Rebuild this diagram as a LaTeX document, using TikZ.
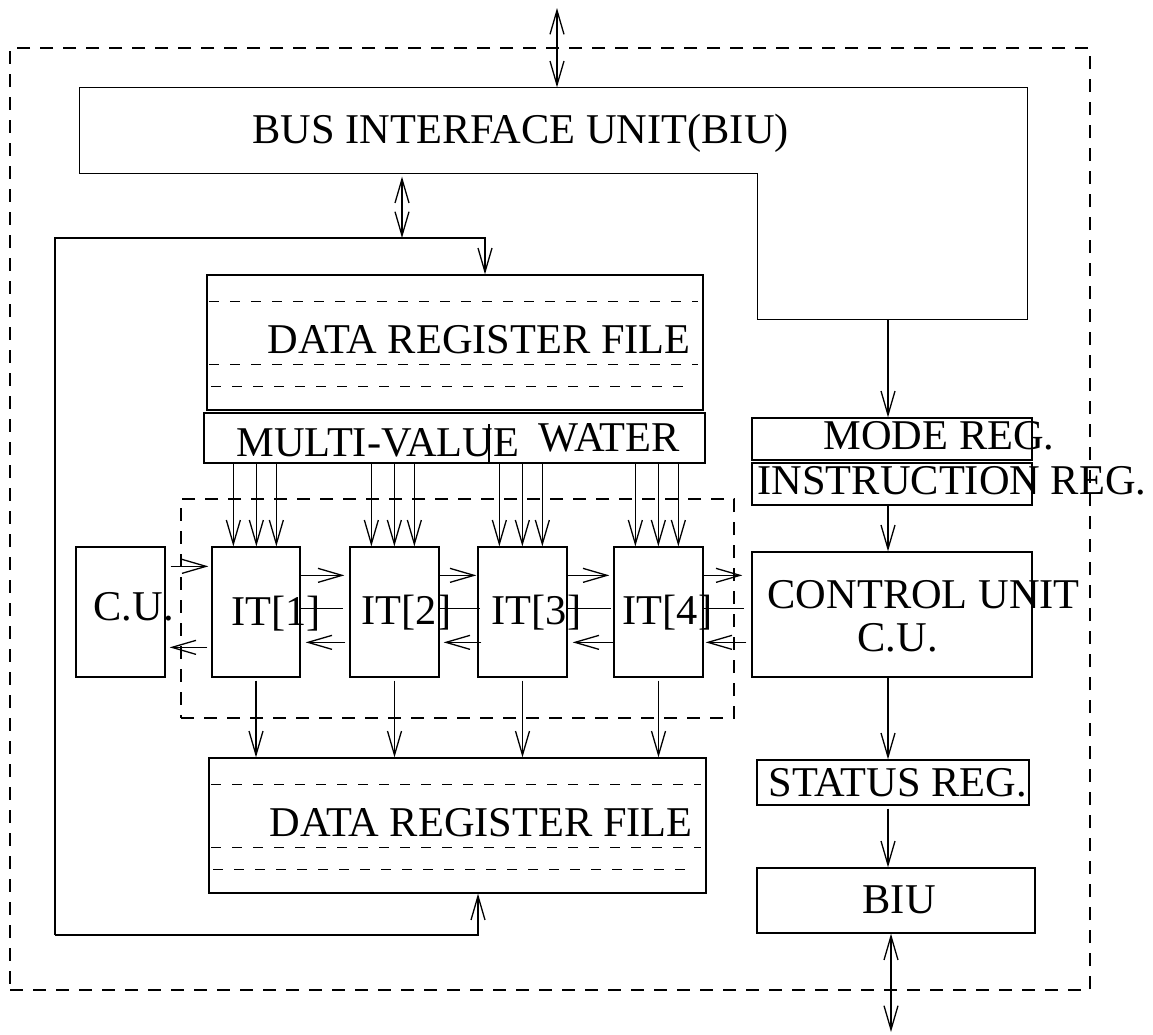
\documentclass[tikz,border=0pt]{standalone}
\usepackage{fontspec}
\setmainfont{Liberation Serif}
\usetikzlibrary{arrows.meta}
\begin{document}
\begin{tikzpicture}[x=1pt,y=-1pt, line width=1.3pt,
  every node/.style={font=\fontsize{42.4}{48}\selectfont},
  box/.style={draw, inner sep=0pt},
  lbl/.style={inner sep=0pt, anchor=base west},
  >={Straight Barb[length=24pt,width=14pt]},
  arr/.style={->},
  bi/.style={<->},
  odash/.style={dash pattern=on 13pt off 10pt},
  rdash/.style={dash pattern=on 10pt off 11pt}]
\useasboundingbox (0,0) rectangle (1153,1034);

% outer dashed frame
\node[box, odash, minimum width=1080pt, minimum height=942pt] (outer) at (550,519) {};

% bus interface unit (L-shaped)
\node[inner sep=0pt, minimum width=947pt, minimum height=85pt] (biu) at (553.5,130.5) {};
\node[inner sep=0pt, minimum width=269pt, minimum height=231pt] (biuR) at (892.5,203.5) {};
\draw (biu.north west) -- (biu.north east) -- (biuR.south east) -- (biuR.south west)
      -- (biuR.north west |- biu.south) -- (biu.south west) -- cycle;
\node[lbl] (tbiu) at (252,143) {BUS INTERFACE UNIT(BIU)};

% data register files
\node[box, minimum width=496pt, minimum height=135pt] (drf1) at (455,342.5) {};
\node[box, minimum width=497pt, minimum height=135pt] (drf2) at (457.5,825.5) {};
\foreach \d in {drf1,drf2}{
  \draw[rdash] ([xshift=3pt,yshift=-27pt]\d.north west) -- ([xshift=-6pt,yshift=-27pt]\d.north east);
  \draw[rdash] ([xshift=3pt,yshift=-90pt]\d.north west) -- ([xshift=-6pt,yshift=-90pt]\d.north east);
  \draw[rdash] ([xshift=5pt,yshift=-112pt]\d.north west) -- ([xshift=-15pt,yshift=-112pt]\d.north east);
}
\node[lbl] (tdrf1) at (267,353) {DATA REGISTER FILE};
\node[lbl] (tdrf2) at (269,836) {DATA REGISTER FILE};

% multi-value water
\node[box, minimum width=501pt, minimum height=50pt] (mv) at (454.5,438) {};
\draw ([xshift=34.5pt]mv.south) -- ([xshift=34.5pt,yshift=40pt]mv.south);
\node[lbl] (tmv1) at (236,456) {MULTI-VALUE};
\node[lbl] (tmv2) at (538,451) {WATER};

% iteration group
\node[box, odash, minimum width=553pt, minimum height=219pt] (grp) at (457.5,608.5) {};
\node[box, minimum width=89pt, minimum height=130pt] (cul) at (120.5,612) {};
\node[box, minimum width=88pt, minimum height=130pt] (it1) at (256,612) {};
\node[box, minimum width=89pt, minimum height=130pt] (it2) at (394.5,612) {};
\node[box, minimum width=89pt, minimum height=130pt] (it3) at (522.5,612) {};
\node[box, minimum width=89pt, minimum height=130pt] (it4) at (658.5,612) {};
\node[lbl] (tcul) at (93,620) {C.U.};
\node[lbl] (tit1) at (231,625) {IT[1]};
\node[lbl] (tit2) at (361,624) {IT[2]};
\node[lbl] (tit3) at (491,624) {IT[3]};
\node[lbl] (tit4) at (622,624) {IT[4]};

% right column
\node[box, minimum width=280pt, minimum height=42pt] (mode) at (892,439) {};
\node[box, minimum width=280pt, minimum height=42pt] (instr) at (892,484) {};
\node[box, minimum width=280pt, minimum height=125pt] (cu) at (892,614.5) {};
\node[box, minimum width=272pt, minimum height=45pt] (status) at (893,782.5) {};
\node[box, minimum width=278pt, minimum height=65pt] (biu2) at (896,900.5) {};
\node[lbl] (tmode) at (823,449) {MODE REG.};
\node[lbl] (tinstr) at (757,494) {INSTRUCTION REG.};
\node[lbl] (tcu1) at (767,608) {CONTROL UNIT};
\node[lbl] (tcu2) at (857,651) {C.U.};
\node[lbl] (tstatus) at (768,796) {STATUS REG.};
\node[lbl] (tbiu2) at (862,913) {BIU};

% external bus
\coordinate (extTop) at (557,8);
\coordinate (extBot) at (891,1032);
\draw[bi] (extTop) -- (extTop |- biu.north);
\draw[bi] (biu2.south -| extBot) -- (extBot);

% feedback loop
\coordinate (fbTL) at (55,238);
\coordinate (fbBL) at (55,935);
\coordinate (dIn1) at ([xshift=30pt]drf1.north);
\coordinate (dIn2) at ([xshift=20.5pt]drf2.south);
\coordinate (bx) at ([xshift=-151.5pt]biu.south);
\draw[bi, shorten <=3pt] (bx) -- (bx |- fbTL);
\draw[arr] (fbBL) -- (fbTL) -- (dIn1 |- fbTL) -- (dIn1);
\draw[arr] (fbBL) -- (dIn2 |- fbBL) -- (dIn2);

% right column arrows
\coordinate (colx) at (888,0);
\draw[arr] (colx |- biuR.south) -- (colx |- mode.north);
\draw[arr] (colx |- instr.south) -- (colx |- cu.north);
\draw[arr] (colx |- cu.south) -- (colx |- status.north);
\draw[arr, shorten <=3pt] (colx |- status.south) -- (colx |- biu2.north);

% MV to IT arrows
\foreach \n in {it1,it2,it3,it4}{
  \foreach \o in {22,45,65}{
    \path ([xshift=\o pt]\n.north west) coordinate (tmp);
    \draw[arr] (tmp |- mv.south) -- (tmp);
  }
  \draw[arr, shorten <=3pt] (\n.south) -- (\n.south |- drf2.north);
}

% horizontal links
\coordinate (rCU) at ([yshift=-20pt]it1.north);
\coordinate (rF) at ([yshift=-29pt]it1.north);
\coordinate (rM) at ([yshift=-62pt]it1.north);
\coordinate (rB) at ([yshift=-96pt]it1.north);
\coordinate (rCB) at ([yshift=-101pt]it1.north);
\draw[arr, shorten <=5pt, shorten >=3pt] (cul.east |- rCU) -- (it1.west |- rCU);
\draw[arr, shorten <=4pt, shorten >=4pt] (it1.west |- rCB) -- (cul.east |- rCB);
\draw[arr, shorten >=5pt] (it1.east |- rF) -- (it2.west |- rF);
\draw[arr, shorten >=1pt] (it2.east |- rF) -- (it3.west |- rF);
\draw[arr, shorten >=4pt] (it3.east |- rF) -- (it4.west |- rF);
\draw[arr, shorten >=9pt] (it4.east |- rF) -- (cu.west |- rF);
\draw[shorten >=6pt] (it1.east |- rM) -- (it2.west |- rM);
\draw[shorten >=-3pt] (it2.east |- rM) -- (it3.west |- rM);
\draw[shorten >=2pt] (it3.east |- rM) -- (it4.west |- rM);
\draw[shorten >=7pt] (it4.east |- rM) -- (cu.west |- rM);
\draw[arr, shorten <=4pt, shorten >=5pt] (it2.west |- rB) -- (it1.east |- rB);
\draw[arr, shorten <=-4pt, shorten >=4pt] (it3.west |- rB) -- (it2.east |- rB);
\draw[arr, shorten >=5pt] (it4.west |- rB) -- (it3.east |- rB);
\draw[arr, shorten <=5pt, shorten >=2pt] (cu.west |- rB) -- (it4.east |- rB);
\end{tikzpicture}
\end{document}
